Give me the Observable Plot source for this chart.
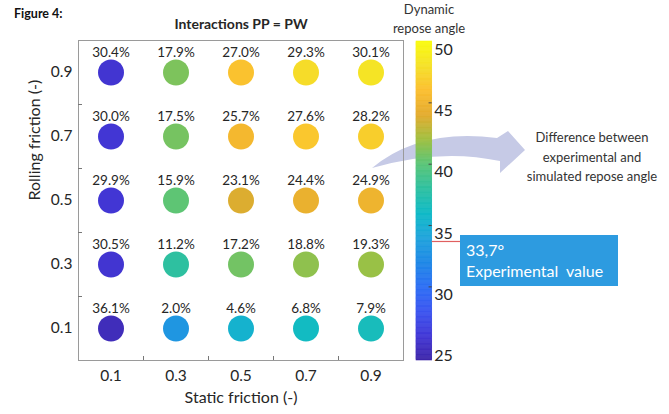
<!DOCTYPE html>
<html>
<head>
<meta charset="utf-8">
<script src="https://cdn.jsdelivr.net/npm/d3@7"></script>
<script src="https://cdn.jsdelivr.net/npm/@observablehq/plot@0.6"></script>
<style>
  html, body { margin: 0; padding: 0; background: #fff; }
  body { font-family: Lato, "Open Sans", sans-serif; color: #262626; }
  #wrap { position: relative; width: 669px; height: 414px; overflow: hidden; }
  #wrap > * { position: absolute; left: 0; top: 0; }
  .lbl { position: absolute; white-space: nowrap; }
</style>
</head>
<body>
<div id="wrap"></div>
<script>
// ---- data ----
const staticFriction = [0.1, 0.3, 0.5, 0.7, 0.9];
const rollingFriction = [0.9, 0.7, 0.5, 0.3, 0.1];
// difference between experimental and simulated repose angle (%), rows = rolling friction
const diffPct = [
  [30.4, 17.9, 27.0, 29.3, 30.1],
  [30.0, 17.5, 25.7, 27.6, 28.2],
  [29.9, 15.9, 23.1, 24.4, 24.9],
  [30.5, 11.2, 17.2, 18.8, 19.3],
  [36.1, 2.0, 4.6, 6.8, 7.9]
];
// dynamic repose angle (deg)
const reposeAngle = [
  [25.8, 41.0, 46.2, 47.7, 48.2],
  [25.9, 40.8, 45.4, 46.5, 46.9],
  [25.9, 40.1, 43.8, 44.6, 44.9],
  [25.8, 38.0, 40.7, 41.5, 41.8],
  [24.8, 33.0, 35.3, 36.2, 36.6]
];
const axisTicks = [0.1, 0.3, 0.5, 0.7, 0.9];
const minorTicks = [0.2, 0.4, 0.6, 0.8];
const colorbarTicks = [25, 30, 35, 40, 45, 50];
const colorbarInnerTicks = [30, 35, 40, 45];
const experimentalValue = 33.7;
const colorDomain = [24, 50];
// parula-like colormap stops
const parulaStops = [24, 26, 28, 30, 32, 34, 36, 38, 40, 42, 44, 46, 48, 50];
const parulaColors = ["#3e26a8", "#4237d6", "#3b55f0", "#2d6ff4", "#1e88e6", "#20a4dc", "#0fbac6",
                      "#2ec0a0", "#5ac577", "#a0c040", "#e3ab2e", "#fbbe30", "#f5e128", "#f9fb0e"];

// ---- table built from the arrays ----
const cells = [];
rollingFriction.forEach((rf, i) => staticFriction.forEach((sf, j) => {
  cells.push({sf, rf, pct: diffPct[i][j], angle: reposeAngle[i][j]});
}));

const colorScale = {type: "linear", domain: parulaStops, range: parulaColors, interpolate: "rgb"};
const W = 669, H = 414;
const style = {background: "transparent", fontFamily: "Lato, 'Open Sans', sans-serif", color: "#262626", overflow: "visible"};

const wrap = document.getElementById("wrap");

// ---- decorative curved arrow (behind everything) ----
const ns = "http://www.w3.org/2000/svg";
const arrowSvg = document.createElementNS(ns, "svg");
arrowSvg.setAttribute("width", W); arrowSvg.setAttribute("height", H);
const arrowPath = document.createElementNS(ns, "path");
arrowPath.setAttribute("d", "M372,168 Q420,128 497,138 L508,131 L525,150 L500,173 L500,161 Q440,148 372,168 Z");
arrowPath.setAttribute("fill", "#c6cae6");
arrowSvg.appendChild(arrowPath);
wrap.appendChild(arrowSvg);

// ---- main chart ----
const main = Plot.plot({
  width: W, height: H,
  marginLeft: 78, marginRight: W - 403, marginTop: 40, marginBottom: H - 360,
  style,
  x: {domain: [0, 1]},
  y: {domain: [0, 1]},
  color: colorScale,
  marks: [
    Plot.frame({stroke: "#9a9a9a"}),
    Plot.axisX({ticks: axisTicks, tickSize: 0, tickPadding: 9, fontSize: 15.5, label: null, tickFormat: d => d.toFixed(1)}),
    Plot.axisX({ticks: minorTicks, tickSize: 4, dy: -4, text: null, label: null, stroke: "#777"}),
    Plot.axisY({ticks: axisTicks, tickSize: 0, tickPadding: 6, fontSize: 15.5, label: null, tickFormat: d => d.toFixed(1)}),
    Plot.axisY({ticks: minorTicks, tickSize: 4, dx: 4, text: null, label: null, stroke: "#777"}),
    Plot.dot(cells, {x: "sf", y: "rf", r: 13, fill: "angle"}),
    Plot.text(cells, {x: "sf", y: "rf", text: d => d.pct.toFixed(1) + "%", dy: -20, fontSize: 13.5, fill: "#262626"}),
    Plot.text(["Static friction (-)"], {frameAnchor: "bottom", dy: 42, fontSize: 16, fill: "#262626"}),
    Plot.text(["Rolling friction (-)"], {frameAnchor: "left", dx: -44, rotate: -90, fontSize: 16, fill: "#262626"}),
    Plot.text(["Interactions PP = PW"], {frameAnchor: "top", dy: -21, fontSize: 14, fontWeight: "bold", fill: "#262626"})
  ]
});
wrap.appendChild(main);

// ---- colorbar ----
const cbValues = d3.range(colorDomain[0], colorDomain[1], 0.1);
const colorbar = Plot.plot({
  width: W, height: H,
  marginLeft: 416, marginRight: W - 460, marginTop: 41, marginBottom: H - 360,
  style,
  x: {domain: [0, 2.8], axis: null},
  y: {domain: colorDomain, axis: null},
  color: colorScale,
  marks: [
    Plot.rect(cbValues, {x1: 0, x2: 1, y1: d => d, y2: d => Math.min(d + 0.1, colorDomain[1]),
      fill: d => d + 0.05, stroke: d => d + 0.05, strokeWidth: 0.6}),
    Plot.ruleY(colorbarInnerTicks, {x1: 0.8, x2: 1, stroke: "#444", strokeWidth: 1}),
    Plot.text(colorbarTicks, {x: 1, y: d => d, text: d => String(d), textAnchor: "start", dx: 2, dy: 8, fontSize: 16, fill: "#262626"}),
    Plot.ruleY([experimentalValue], {x1: 1, x2: 2.8, stroke: "#e06060", strokeWidth: 1.2})
  ]
});
wrap.appendChild(colorbar);

// ---- text annotations ----
function addLabel(html, css) {
  const d = document.createElement("div");
  d.className = "lbl";
  d.innerHTML = html;
  Object.assign(d.style, css);
  wrap.appendChild(d);
  return d;
}
addLabel("Figure 4:", {left: "14px", top: "6px", fontSize: "12.5px", fontWeight: "bold", color: "#111"});
addLabel("Dynamic<br>repose angle", {left: "379px", top: "0px", width: "100px", textAlign: "center", fontSize: "13px", lineHeight: "19px", color: "#333"});
addLabel("Difference between<br>experimental and<br>simulated repose angle", {left: "512px", top: "128px", width: "160px", textAlign: "center", fontSize: "13px", lineHeight: "19.5px", color: "#333"});
addLabel("33,7°<br>Experimental&nbsp; value", {left: "460px", top: "235px", width: "158px", height: "51px", paddingLeft: "6px", background: "#2d9be0", color: "#fff", fontSize: "16px", lineHeight: "21px", paddingTop: "4px", boxSizing: "border-box"});
</script>
</body>
</html>
